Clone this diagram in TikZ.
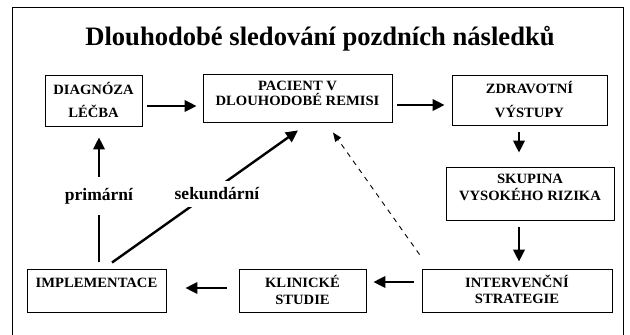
\documentclass[tikz,border=0pt]{standalone}
\usepackage{fontspec}
\setmainfont{Liberation Serif}
\newfontfamily\boxfont{Liberation Serif}[FakeStretch=1.03]
\usetikzlibrary{arrows.meta}
\begin{document}
\begin{tikzpicture}[x=1pt,y=-1pt,
  box/.style={draw, line width=0.9pt, inner sep=0pt},
  btxt/.style={font=\boxfont\fontsize{14.2}{14.2}\bfseries, anchor=base, inner sep=0pt},
  arr/.style={line width=2.4pt, -{Triangle[length=12pt,width=11.5pt]}},
  dasharr/.style={line width=0.9pt, dash pattern=on 5pt off 5pt, -{Triangle[length=9pt,width=7pt]}},
  lab/.style={font=\fontsize{17.5}{18}\bfseries, fill=white, inner xsep=1pt}
]
\useasboundingbox (0,0) rectangle (630,335);
% frame
\draw[line width=1.1pt] (12.5,336) -- (12.5,7.5) -- (623.5,7.5) -- (623.5,336);
% title
\node[font=\fontsize{26.6}{30}\bfseries, anchor=base, inner sep=0pt] (title) at (320,45) {Dlouhodobé sledování pozdních následků};
% boxes
\node[box, minimum width=97pt, minimum height=51pt] (diag) at (93.5,100.5) {};
\node[box, minimum width=189pt, minimum height=48pt] (pac) at (297.5,98) {};
\node[box, minimum width=155pt, minimum height=50pt] (zdr) at (529.5,100) {};
\node[box, minimum width=168pt, minimum height=53pt] (sku) at (530,193.5) {};
\node[box, minimum width=190pt, minimum height=43pt] (int) at (517,290.5) {};
\node[box, minimum width=127pt, minimum height=43pt] (kli) at (302.5,290.5) {};
\node[box, minimum width=139pt, minimum height=43pt] (imp) at (96.5,290.5) {};
% box texts
\node[btxt] (diagA) at (93.5,94) {DIAGNÓZA};
\node[btxt] (diagB) at (93.5,117) {LÉČBA};
\node[btxt] (pacA) at (297.5,90) {PACIENT V};
\node[btxt] (pacB) at (297.5,105) {DLOUHODOBÉ REMISI};
\node[btxt] (zdrA) at (529.5,93) {ZDRAVOTNÍ};
\node[btxt] (zdrB) at (529.5,117) {VÝSTUPY};
\node[btxt] (skuA) at (530,183) {SKUPINA};
\node[btxt] (skuB) at (530,200) {VYSOKÉHO RIZIKA};
\node[btxt] (intA) at (517,287) {INTERVENČNÍ};
\node[btxt] (intB) at (517,303) {STRATEGIE};
\node[btxt] (kliA) at (302.5,287) {KLINICKÉ};
\node[btxt] (kliB) at (302.5,304) {STUDIE};
\node[btxt] (impA) at (96.5,287) {IMPLEMENTACE};
% arrows
\draw[arr] ([shift={(5pt,-5.5pt)}]diag.east) -- ([shift={(-6pt,-8pt)}]pac.west);
\draw[arr] ([shift={(5pt,-7pt)}]pac.east) -- ([shift={(-7pt,-5pt)}]zdr.west);
\draw[arr] ([shift={(-10.5pt,-7pt)}]zdr.south) -- ([shift={(-11pt,14pt)}]sku.north);
\draw[arr] ([shift={(-11pt,-7pt)}]sku.south) -- ([shift={(2pt,7pt)}]int.north);
\draw[arr] ([shift={(-8pt,8.5pt)}]int.west) -- ([shift={(7pt,8.5pt)}]kli.east);
\draw[arr] ([shift={(-12pt,2.5pt)}]kli.west) -- ([shift={(19pt,2.5pt)}]imp.east);
\draw[arr] ([shift={(2.5pt,7pt)}]imp.north) -- ([shift={(5.5pt,-11pt)}]diag.south);
\draw[arr] ([shift={(15.5pt,6pt)}]imp.north) -- ([shift={(0.5pt,-8pt)}]pac.south);
\draw[dasharr] ([shift={(-2pt,14pt)}]int.north west) -- ([shift={(35.5pt,-10pt)}]pac.south);
% labels
\node[lab, minimum height=38pt] (prim) at (99,196) {primární};
\node[lab, minimum height=26pt] (sek) at (217,194) {sekundární};
\end{tikzpicture}
\end{document}
